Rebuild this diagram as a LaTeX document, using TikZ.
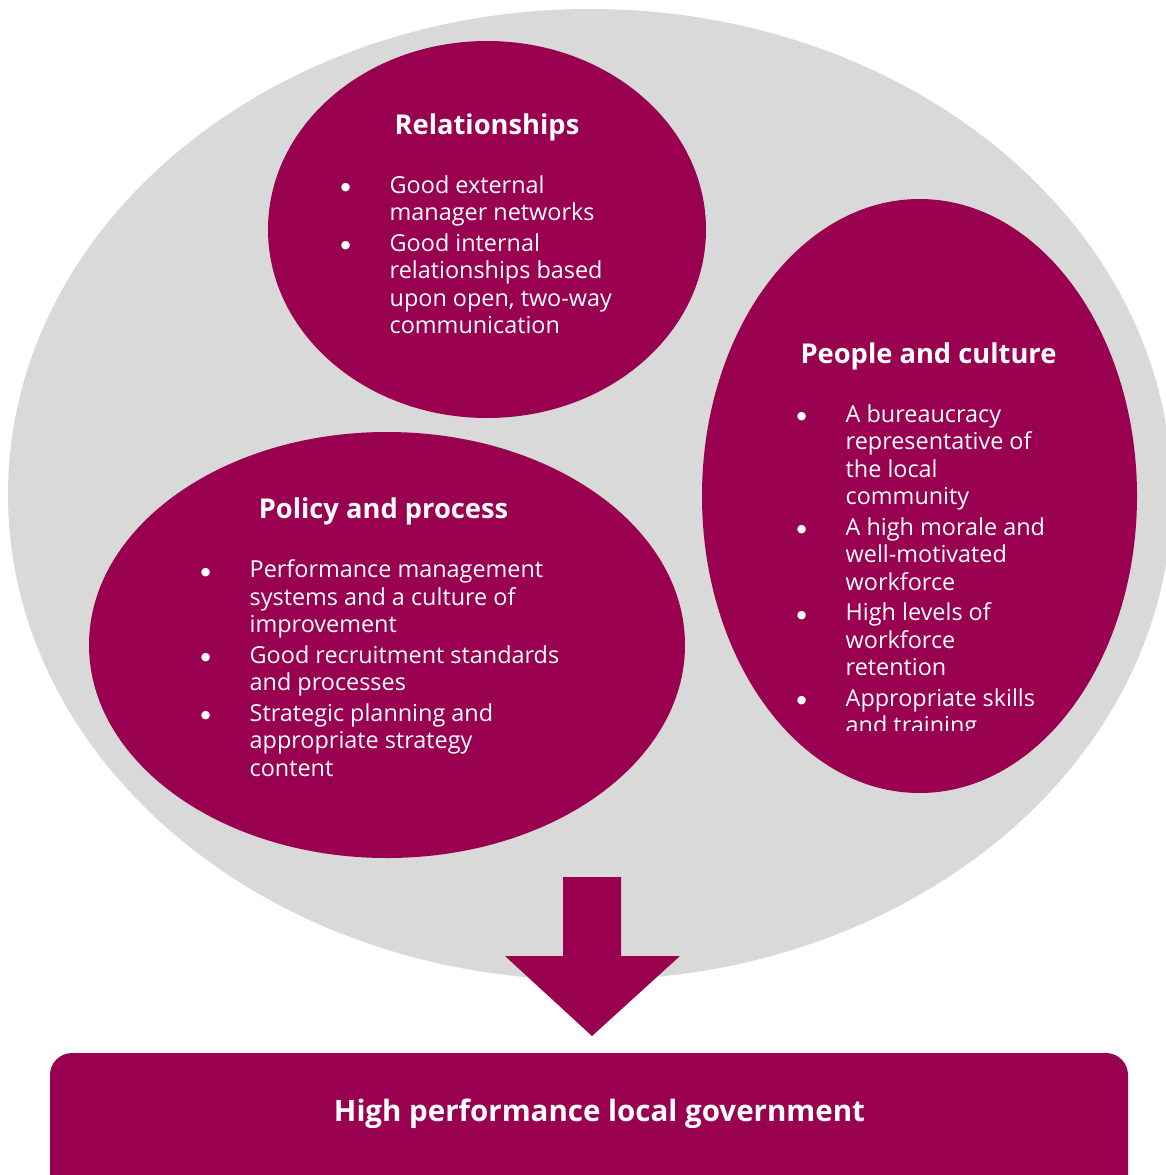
\documentclass[tikz,border=0pt]{standalone}
\usepackage{fontspec}
\setmainfont{Open Sans}
\newfontfamily\dvfont{DejaVu Sans}
\usetikzlibrary{shapes.geometric}
\definecolor{berry}{HTML}{990050}
\definecolor{lightgrey}{HTML}{D9D9D9}
\newcommand\bdot{\raisebox{2.6pt}{\dvfont\fontsize{11}{0}\selectfont ●}}
\newcommand\bitem{\makebox[44pt][l]{\makebox[0pt]{\bdot}}}
\newcommand\bcont{\hspace*{44pt}}
\tikzset{
  blob/.style={ellipse, fill=berry, draw=none, inner sep=0pt},
  ttl/.style={anchor=base, text=white, inner sep=0pt, font=\fontsize{27.3}{32}\selectfont\bfseries},
  lst/.style={anchor=base west, text=white, inner sep=0pt, font=\fontsize{23.4}{27.5}\selectfont},
}
\begin{document}
\begin{tikzpicture}[x=1pt,y=-1pt]
\useasboundingbox (0,0) rectangle (1166,1175);
% outer grey ellipse
\node[ellipse, fill=lightgrey, draw=none, inner sep=0pt, minimum width=1164pt, minimum height=971pt] (outer) at (590,494.5) {};
% three circles
\node[blob, minimum width=438pt, minimum height=377pt] (rel) at (487,229.5) {};
\node[blob, minimum width=435pt, minimum height=594pt] (ppl) at (919.5,496) {};
\node[blob, minimum width=596pt, minimum height=426pt] (pol) at (387,645) {};
% titles
\node[ttl] (reltitle) at (487,134.3) {Relationships};
\node[ttl] (poltitle) at (383.5,518) {Policy and process};
\node[ttl] (ppltitle) at (928.5,363) {People and culture};
% lists
\node[lst] (rellist) at (345.5,193.3) {\begin{tabular}[t]{@{}l@{}}
\bitem Good external\\
\bcont manager networks\\[3pt]
\bitem Good internal\\
\bcont relationships based\\
\bcont upon open, two-way\\
\bcont communication
\end{tabular}};
\node[lst] (pollist) at (205.5,577.7) {\begin{tabular}[t]{@{}l@{}}
\bitem Performance management\\
\bcont systems and a culture of\\
\bcont improvement\\[3pt]
\bitem Good recruitment standards\\
\bcont and processes\\[3pt]
\bitem Strategic planning and\\
\bcont appropriate strategy\\
\bcont content
\end{tabular}};
\begin{scope}
\clip (700,380) rectangle (1140,730);
\node[lst] (ppllist) at (801.5,422.3) {\begin{tabular}[t]{@{}l@{}}
\bitem A bureaucracy\\
\bcont representative of\\
\bcont the local\\
\bcont community\\[3pt]
\bitem A high morale and\\
\bcont well-motivated\\
\bcont workforce\\[3pt]
\bitem High levels of\\
\bcont workforce\\
\bcont retention\\[3pt]
\bitem Appropriate skills\\
\bcont and training
\end{tabular}};
\end{scope}
% block arrow
\fill[berry] (563,877) -- (621,877) -- (621,956) -- (680,956) -- (592,1036) -- (505,956) -- (563,956) -- cycle;
% result box
\fill[berry, rounded corners=22pt] (50,1053) rectangle (1128,1210);
\node[anchor=base, text=white, inner sep=0pt, font=\fontsize{29.5}{34}\selectfont\bfseries] (result) at (599.5,1121.7) {High performance local government};
\end{tikzpicture}
\end{document}
